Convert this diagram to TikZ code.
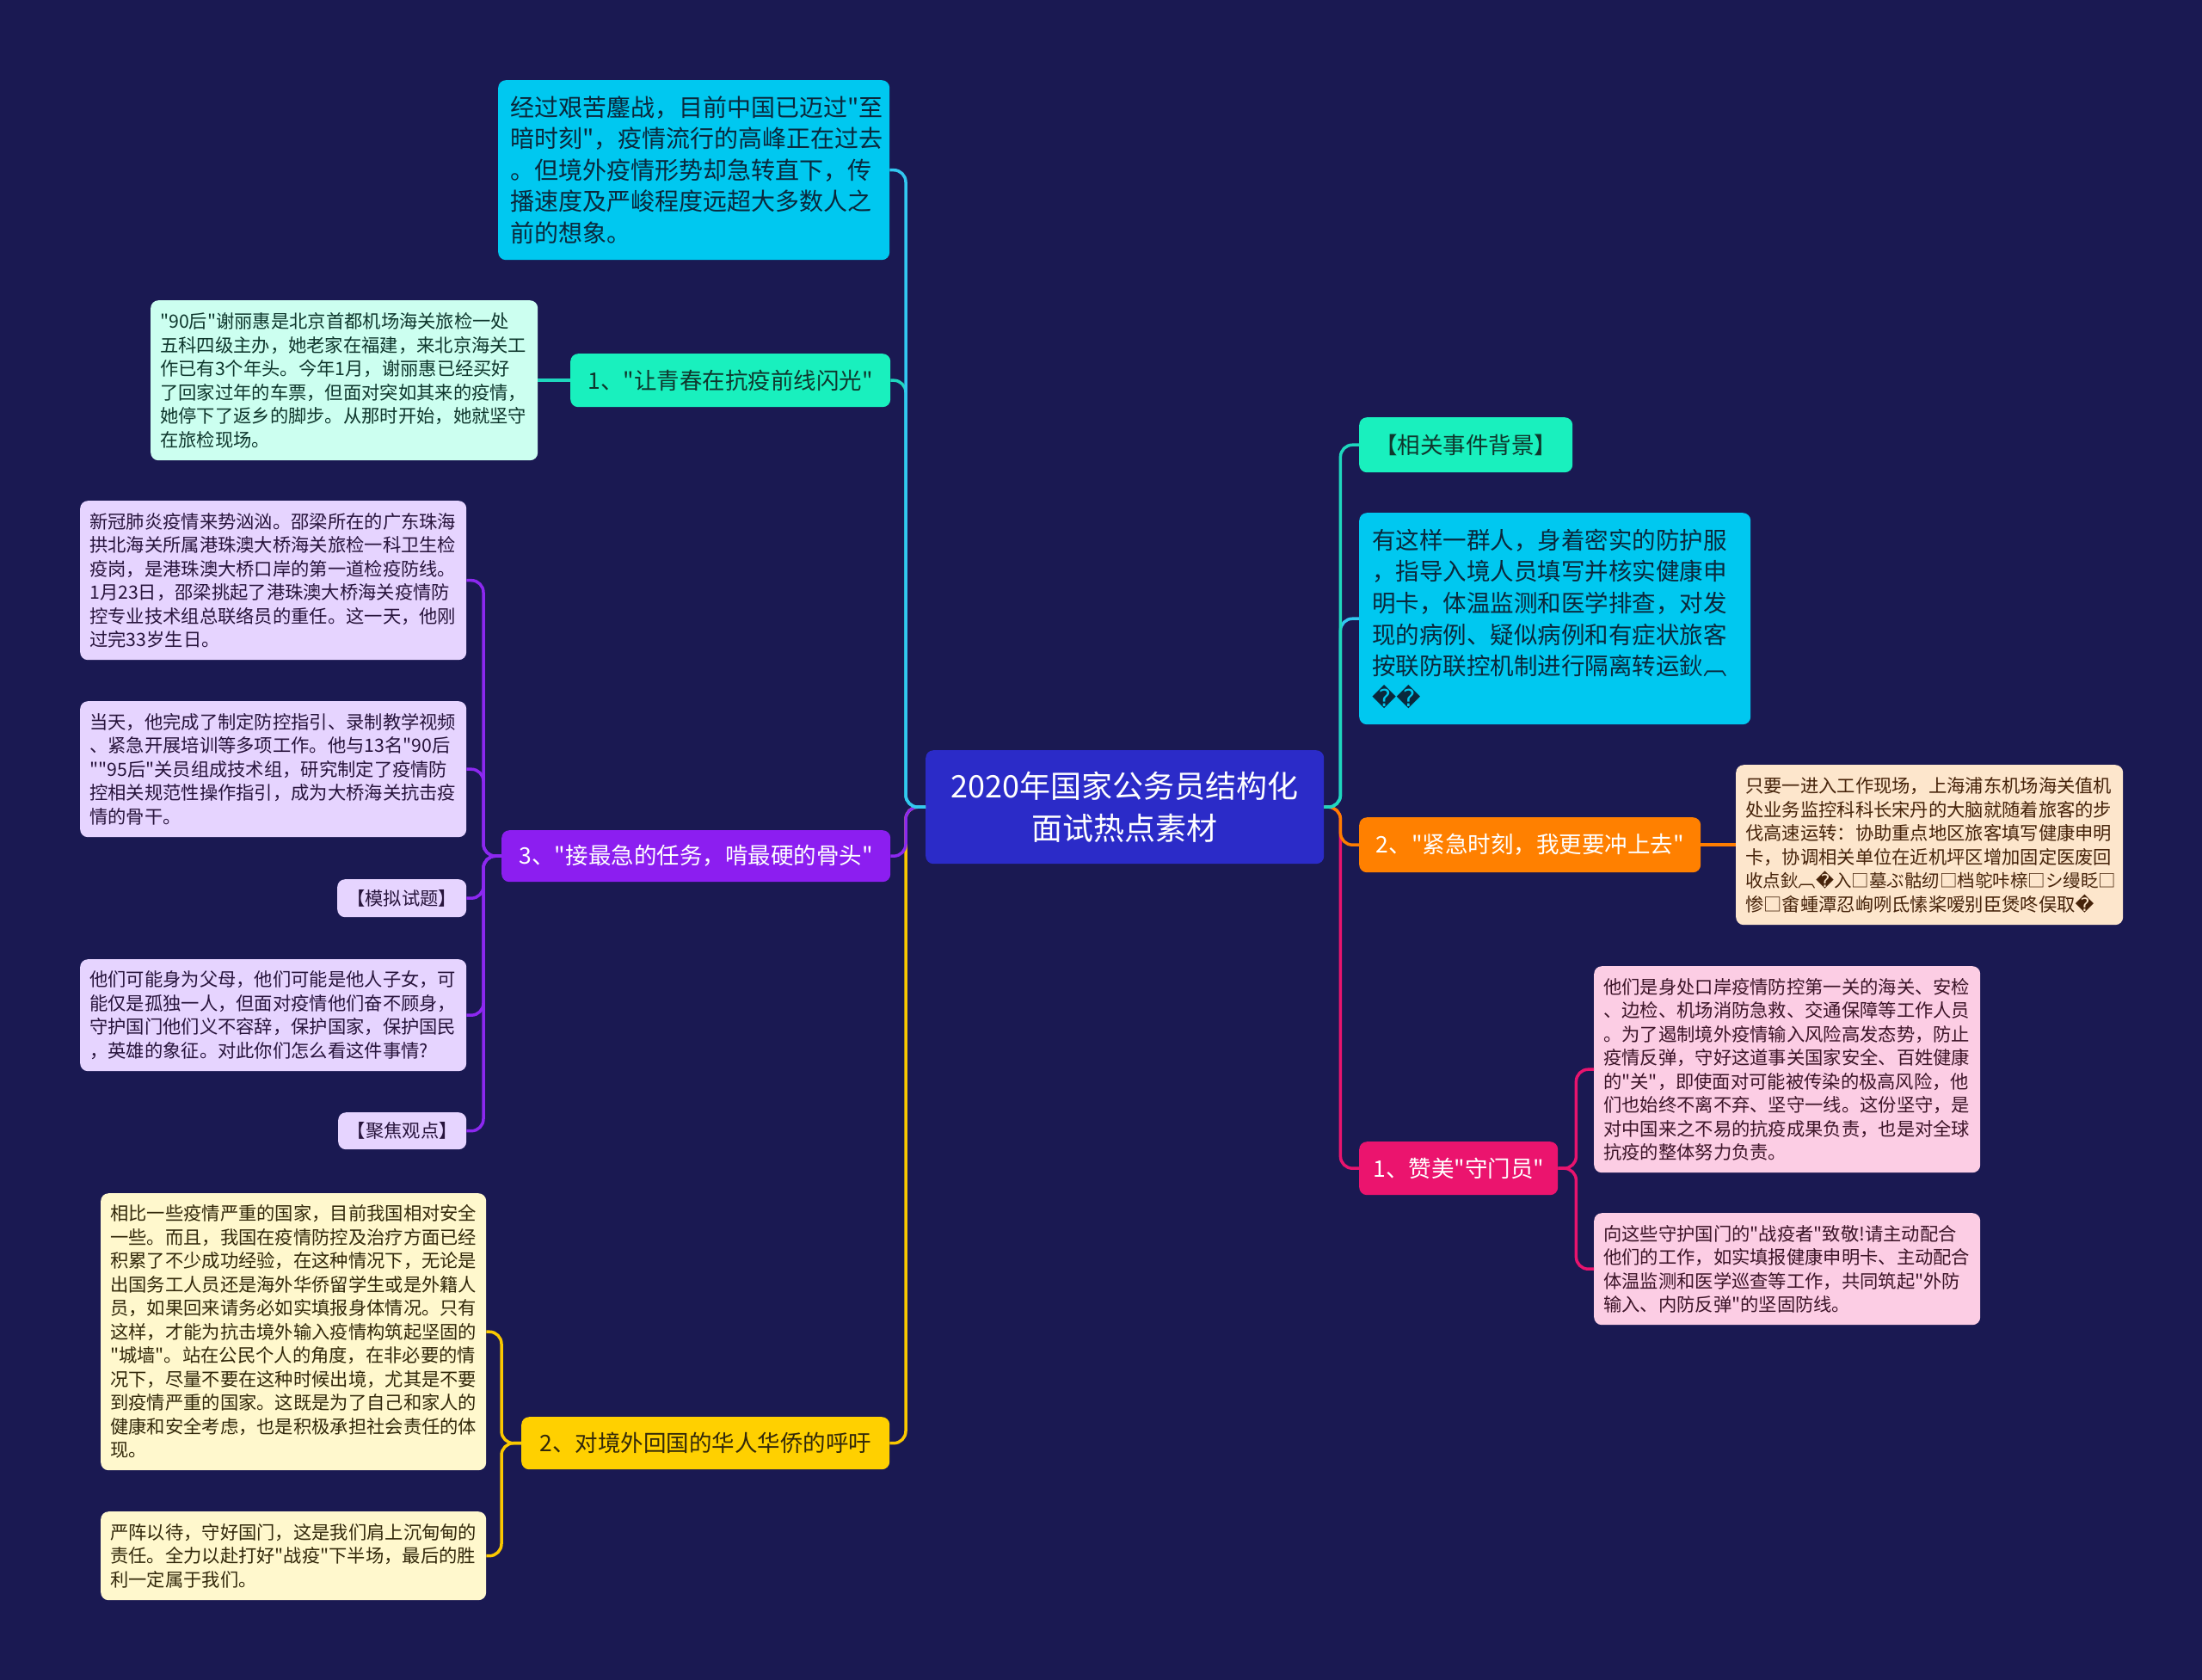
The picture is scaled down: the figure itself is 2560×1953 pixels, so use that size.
\documentclass[tikz,border=0pt]{standalone}
\usepackage{fontspec}
\newfontfamily\cjk{Noto Sans CJK SC}
\newfontfamily\djv{DejaVu Sans}
\definecolor{bgc}{RGB}{26,25,82}
\definecolor{cenc}{RGB}{43,43,200}
\definecolor{cyanbox}{RGB}{0,200,240}
\definecolor{greenbox}{RGB}{25,240,190}
\definecolor{mintbox}{RGB}{204,255,240}
\definecolor{purbox}{RGB}{140,30,240}
\definecolor{lavbox}{RGB}{230,212,255}
\definecolor{yelbox}{RGB}{255,208,0}
\definecolor{creambox}{RGB}{255,248,205}
\definecolor{orbox}{RGB}{255,128,0}
\definecolor{peachbox}{RGB}{253,230,204}
\definecolor{pinkbox}{RGB}{235,20,110}
\definecolor{lpinkbox}{RGB}{252,205,228}
\definecolor{cyanline}{RGB}{50,200,240}
\definecolor{tealline}{RGB}{30,215,190}
\definecolor{purline}{RGB}{140,40,240}
\definecolor{yelline}{RGB}{250,200,0}
\definecolor{orline}{RGB}{255,125,0}
\definecolor{pinkline}{RGB}{232,20,110}
\definecolor{txcyan}{RGB}{10,40,60}
\definecolor{txgreen}{RGB}{15,55,45}
\definecolor{txlav}{RGB}{40,20,60}
\definecolor{txcream}{RGB}{50,40,10}
\definecolor{txpeach}{RGB}{70,35,10}
\definecolor{txpink}{RGB}{60,20,40}
\begin{document}
\begin{tikzpicture}[x=1pt,y=-1pt,
  bx/.style={rounded corners=9pt, anchor=north west, inner xsep=11pt, inner ysep=0pt, align=left},
  lbl/.style={rounded corners=9pt, anchor=north west, inner sep=0pt, align=center, font=\cjk\fontsize{26.5}{32}\selectfont},
  smallt/.style={font=\cjk\fontsize{21.3}{27.5}\selectfont},
  bigt/.style={font=\cjk\fontsize{27.5}{36.6}\selectfont},
  conn/.style={line width=3.5pt, rounded corners=14pt}]
\fill[bgc] (0,0) rectangle (2560,1953);
\useasboundingbox (0,0) rectangle (2560,1953);

% center
\node[lbl, fill=cenc, text=white, minimum width=463pt, minimum height=132pt, font=\cjk\fontsize{36}{49}\selectfont] (c) at (1076,872) {2020年国家公务员结构化\\面试热点素材};

% ---------- right side ----------
\node[lbl, fill=greenbox, text=txgreen, minimum width=248pt, minimum height=64pt] (bg1) at (1580,485) {【相关事件背景】};
\node[bx, bigt, inner xsep=15pt, fill=cyanbox, text=txcyan, text width=425pt, minimum height=246pt] (cy2) at (1580,596) {有这样一群人，身着密实的防护服\\，指导入境人员填写并核实健康申\\明卡，体温监测和医学排查，对发\\现的病例、疑似病例和有症状旅客\\按联防联控机制进行隔离转运鈥︹\\{\djv ��}};
\node[lbl, fill=orbox, text=white, minimum width=397pt, minimum height=64pt] (or2) at (1580,950) {2、"紧急时刻，我更要冲上去"};
\node[bx, smallt, fill=peachbox, text=txpeach, text width=428pt, minimum height=186pt] (peach) at (2018,889) {只要一进入工作现场，上海浦东机场海关值机\\处业务监控科科长宋丹的大脑就随着旅客的步\\伐高速运转：协助重点地区旅客填写健康申明\\卡，协调相关单位在近机坪区增加固定医废回\\{\fontsize{20.5}{27.5}\selectfont 收点鈥︹{\djv �}入□墓ぶ骷纫□档鸵咔榇□シ缦眨□}\\惨□畬蝩潭忍峋咧氐愫桨嗳别臣煲咚俣取{\djv �}};
\node[lbl, fill=pinkbox, text=white, minimum width=231pt, minimum height=62pt] (pk1) at (1580,1327) {1、赞美"守门员"};
\node[bx, smallt, fill=lpinkbox, text=txpink, text width=427pt, minimum height=240pt] (pkA) at (1853,1123) {他们是身处口岸疫情防控第一关的海关、安检\\、边检、机场消防急救、交通保障等工作人员\\。为了遏制境外疫情输入风险高发态势，防止\\疫情反弹，守好这道事关国家安全、百姓健康\\的"关"，即使面对可能被传染的极高风险，他\\们也始终不离不弃、坚守一线。这份坚守，是\\对中国来之不易的抗疫成果负责，也是对全球\\抗疫的整体努力负责。};
\node[bx, smallt, fill=lpinkbox, text=txpink, text width=427pt, minimum height=130pt] (pkB) at (1853,1410) {向这些守护国门的"战疫者"致敬!请主动配合\\他们的工作，如实填报健康申明卡、主动配合\\体温监测和医学巡查等工作，共同筑起"外防\\输入、内防反弹"的坚固防线。};

% ---------- left side ----------
\node[bx, font=\cjk\fontsize{28}{36.5}\selectfont, inner xsep=14pt, fill=cyanbox, text=txcyan, text width=427pt, minimum height=209pt] (cytop) at (579,93) {经过艰苦鏖战，目前中国已迈过"至\\暗时刻"，疫情流行的高峰正在过去\\。但境外疫情形势却急转直下，传\\播速度及严峻程度远超大多数人之\\前的想象。};
\node[lbl, fill=greenbox, text=txgreen, minimum width=372pt, minimum height=62pt] (g1) at (663,411) {1、"让青春在抗疫前线闪光"};
\node[bx, smallt, fill=mintbox, text=txgreen, text width=428pt, minimum height=186pt] (mint) at (175,349) {"90后"谢丽惠是北京首都机场海关旅检一处\\五科四级主办，她老家在福建，来北京海关工\\作已有3个年头。今年1月，谢丽惠已经买好\\了回家过年的车票，但面对突如其来的疫情，\\她停下了返乡的脚步。从那时开始，她就坚守\\在旅检现场。};

\node[lbl, fill=purbox, text=white, minimum width=452pt, minimum height=60pt] (p3) at (583,965) {3、"接最急的任务，啃最硬的骨头"};
\node[bx, smallt, fill=lavbox, text=txlav, text width=427pt, minimum height=185pt] (lav1) at (93,582) {新冠肺炎疫情来势汹汹。邵梁所在的广东珠海\\拱北海关所属港珠澳大桥海关旅检一科卫生检\\疫岗，是港珠澳大桥口岸的第一道检疫防线。\\1月23日，邵梁挑起了港珠澳大桥海关疫情防\\控专业技术组总联络员的重任。这一天，他刚\\过完33岁生日。};
\node[bx, smallt, fill=lavbox, text=txlav, text width=427pt, minimum height=158pt] (lav2) at (93,815) {当天，他完成了制定防控指引、录制教学视频\\、紧急开展培训等多项工作。他与13名"90后\\""95后"关员组成技术组，研究制定了疫情防\\控相关规范性操作指引，成为大桥海关抗击疫\\情的骨干。};
\node[lbl, smallt, fill=lavbox, text=txlav, minimum width=150pt, minimum height=44pt] (mn) at (392,1022) {【模拟试题】};
\node[bx, smallt, fill=lavbox, text=txlav, text width=427pt, minimum height=130pt] (lav3) at (93,1115) {他们可能身为父母，他们可能是他人子女，可\\能仅是孤独一人，但面对疫情他们奋不顾身，\\守护国门他们义不容辞，保护国家，保护国民\\，英雄的象征。对此你们怎么看这件事情?};
\node[lbl, smallt, fill=lavbox, text=txlav, minimum width=149pt, minimum height=43pt] (jj) at (393,1293) {【聚焦观点】};

\node[lbl, fill=yelbox, text=txcream, minimum width=428pt, minimum height=61pt] (y2) at (606,1647) {2、对境外回国的华人华侨的呼吁};
\node[bx, smallt, fill=creambox, text=txcream, text width=426pt, minimum height=322pt] (cr1) at (117,1387) {相比一些疫情严重的国家，目前我国相对安全\\一些。而且，我国在疫情防控及治疗方面已经\\积累了不少成功经验，在这种情况下，无论是\\出国务工人员还是海外华侨留学生或是外籍人\\员，如果回来请务必如实填报身体情况。只有\\这样，才能为抗击境外输入疫情构筑起坚固的\\"城墙"。站在公民个人的角度，在非必要的情\\况下，尽量不要在这种时候出境，尤其是不要\\到疫情严重的国家。这既是为了自己和家人的\\健康和安全考虑，也是积极承担社会责任的体\\现。};
\node[bx, smallt, fill=creambox, text=txcream, text width=426pt, minimum height=103pt] (cr2) at (117,1757) {严阵以待，守好国门，这是我们肩上沉甸甸的\\责任。全力以赴打好"战疫"下半场，最后的胜\\利一定属于我们。};

% ---------- connectors ----------
\draw[conn, yelline] (c.west) -- ++(-23,0) |- (y2.east);
\draw[conn, purline] (c.west) -- ++(-23,0) |- (p3.east);
\draw[conn, tealline] (c.west) -- ++(-23,0) |- (g1.east);
\draw[conn, cyanline] (c.west) -- ++(-23,0) |- (cytop.east);
\draw[conn, tealline] (g1.west) -- (mint.east);
\draw[conn, purline] (p3.west) -- ++(-21,0) |- (lav1.east);
\draw[conn, purline] (p3.west) -- ++(-21,0) |- (lav2.east);
\draw[conn, purline] (p3.west) -- ++(-21,0) |- (mn.east);
\draw[conn, purline] (p3.west) -- ++(-21,0) |- (lav3.east);
\draw[conn, purline] (p3.west) -- ++(-21,0) |- (jj.east);
\draw[conn, yelline] (y2.west) -- ++(-23,0) |- (cr1.east);
\draw[conn, yelline] (y2.west) -- ++(-23,0) |- (cr2.east);

\draw[conn, pinkline] (c.east) -- ++(19,0) |- (pk1.west);
\draw[conn, orline] (c.east) -- ++(19,0) |- (or2.west);
\draw[conn, cyanline] (c.east) -- ++(19,0) |- (cy2.west);
\draw[conn, tealline] (c.east) -- ++(19,0) |- (bg1.west);
\draw[conn, orline] (or2.east) -- (peach.west);
\draw[conn, pinkline] (pk1.east) -- ++(21,0) |- (pkA.west);
\draw[conn, pinkline] (pk1.east) -- ++(21,0) |- (pkB.west);
\end{tikzpicture}
\end{document}
